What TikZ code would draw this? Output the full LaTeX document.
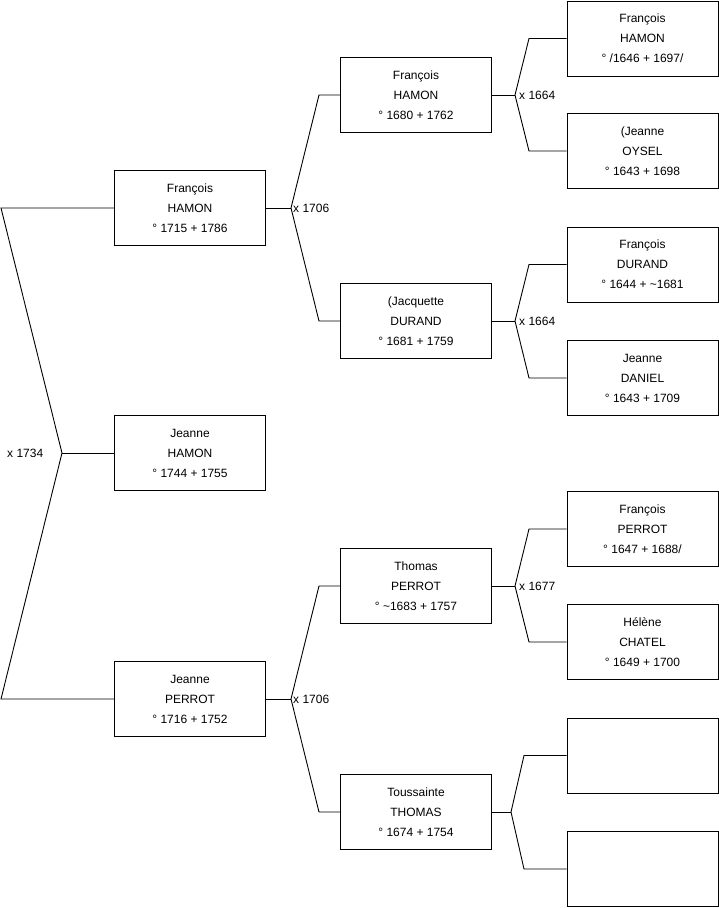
\documentclass[tikz,border=0pt]{standalone}
\usepackage{fontspec}
\setmainfont{Liberation Sans}
\begin{document}
\begin{tikzpicture}[x=1pt,y=-1pt,
  person/.style={draw=black, line width=0.9pt, rectangle, minimum width=151pt, minimum height=75pt, inner sep=0pt, align=center, font=\fontsize{12}{20}\selectfont},
  conn/.style={draw=black, line width=0.9pt},
  marr/.style={anchor=west, inner sep=0pt, font=\fontsize{12}{14}\selectfont}]
\useasboundingbox (0,0) rectangle (719,908);
% column 1
\node[person] (fh1) at (190,208) {François\\HAMON\\° 1715 + 1786};
\node[person] (jh1) at (190,453) {Jeanne\\HAMON\\° 1744 + 1755};
\node[person] (jp1) at (190,699) {Jeanne\\PERROT\\° 1716 + 1752};
% column 2
\node[person] (fh2) at (416,95) {François\\HAMON\\° 1680 + 1762};
\node[person] (jd2) at (416,321) {(Jacquette\\DURAND\\° 1681 + 1759};
\node[person] (tp2) at (416,586) {Thomas\\PERROT\\° \textasciitilde1683 + 1757};
\node[person] (tt2) at (416,812) {Toussainte\\THOMAS\\° 1674 + 1754};
% column 3
\node[person] (fh3) at (642.5,38.5) {François\\HAMON\\° /1646 + 1697/};
\node[person] (jo3) at (642.5,151) {(Jeanne\\OYSEL\\° 1643 + 1698};
\node[person] (fd3) at (642.5,264.5) {François\\DURAND\\° 1644 + \textasciitilde1681};
\node[person] (jd3) at (642.5,378) {Jeanne\\DANIEL\\° 1643 + 1709};
\node[person] (fp3) at (642.5,529) {François\\PERROT\\° 1647 + 1688/};
\node[person] (hc3) at (642.5,642) {Hélène\\CHATEL\\° 1649 + 1700};
\node[person] (e1) at (642.5,755.5) {};
\node[person] (e2) at (642.5,869) {};
% root fork
\coordinate (r0) at (62,453);
\coordinate (ra) at (1,208);
\coordinate (rb) at (1,699);
\draw[conn] (fh1.west) -- (ra) -- (r0) -- (rb) -- (jp1.west);
\draw[conn] (r0) -- (jh1.west);
\node[marr] (m0) at (7,453) {x 1734};
% fork helper macro-less: col1 -> col2
\coordinate (f1) at (291,208);
\coordinate (f1a) at (319,95);
\coordinate (f1b) at (319,321);
\draw[conn] (fh1.east) -- (f1);
\draw[conn] (fh2.west) -- (f1a) -- (f1) -- (f1b) -- (jd2.west);
\node[marr] (m1) at (293,208) {x 1706};
\coordinate (f2) at (291,699);
\coordinate (f2a) at (319,586);
\coordinate (f2b) at (319,812);
\draw[conn] (jp1.east) -- (f2);
\draw[conn] (tp2.west) -- (f2a) -- (f2) -- (f2b) -- (tt2.west);
\node[marr] (m2) at (293,699) {x 1706};
% col2 -> col3
\coordinate (g1) at (515,95);
\coordinate (g1a) at (529,38.5);
\coordinate (g1b) at (529,151);
\draw[conn] (fh2.east) -- (g1);
\draw[conn] (fh3.west) -- (g1a) -- (g1) -- (g1b) -- (jo3.west);
\node[marr] (m3) at (519,95) {x 1664};
\coordinate (g2) at (515,321);
\coordinate (g2a) at (529,264.5);
\coordinate (g2b) at (529,378);
\draw[conn] (jd2.east) -- (g2);
\draw[conn] (fd3.west) -- (g2a) -- (g2) -- (g2b) -- (jd3.west);
\node[marr] (m4) at (519,321) {x 1664};
\coordinate (g3) at (515,586);
\coordinate (g3a) at (529,529);
\coordinate (g3b) at (529,642);
\draw[conn] (tp2.east) -- (g3);
\draw[conn] (fp3.west) -- (g3a) -- (g3) -- (g3b) -- (hc3.west);
\node[marr] (m5) at (519,586) {x 1677};
\coordinate (g4) at (511,812);
\coordinate (g4a) at (524,755.5);
\coordinate (g4b) at (524,869);
\draw[conn] (tt2.east) -- (g4);
\draw[conn] (e1.west) -- (g4a) -- (g4) -- (g4b) -- (e2.west);
\end{tikzpicture}
\end{document}
